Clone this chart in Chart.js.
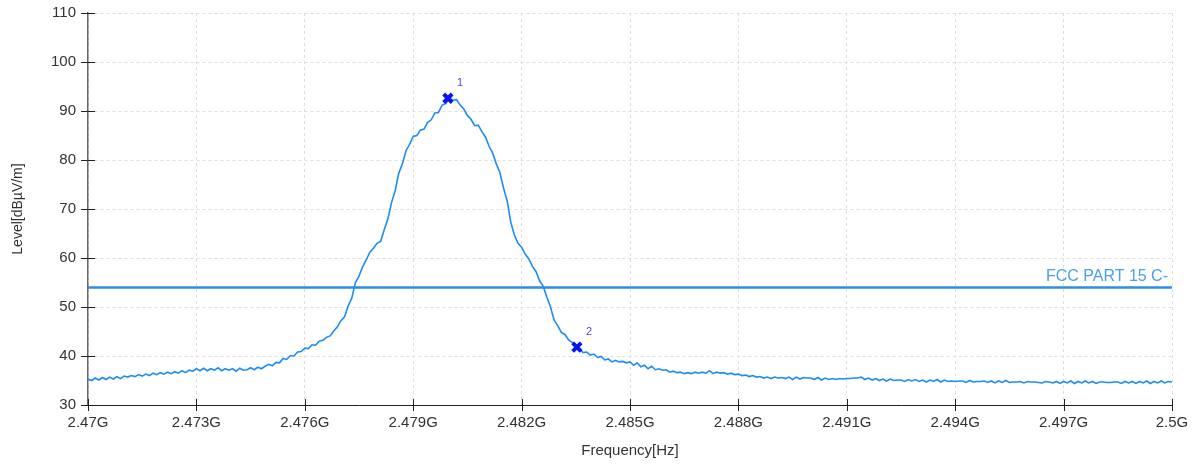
<!DOCTYPE html>
<html>
<head>
<meta charset="utf-8">
<script src="https://cdn.jsdelivr.net/npm/chart.js@4.4.1/dist/chart.umd.min.js"></script>
<style>
  html, body { margin: 0; padding: 0; background: #fff; }
  #wrap { width: 1200px; height: 464px; }
</style>
</head>
<body>
<div id="wrap"><canvas id="specChart"></canvas></div>
<script>
// sweep settings (MHz)
const sweepStart = 2470;
const sweepStep = 0.1;

// trace, one value per 0.1 MHz, 2470 .. 2500 MHz
const levels = [
  35.3, 35.0, 35.5, 35.1, 35.6, 35.2, 35.7, 35.3, 35.8, 35.4,
  35.9, 35.7, 36.0, 35.8, 36.2, 35.9, 36.3, 36.0, 36.5, 36.2,
  36.6, 36.3, 36.7, 36.4, 36.8, 36.5, 37.0, 36.6, 37.1, 36.9,
  37.4, 37.0, 37.5, 37.0, 37.4, 37.1, 37.6, 37.0, 37.4, 37.1,
  37.4, 36.9, 37.5, 37.1, 37.2, 37.6, 37.2, 37.7, 37.4, 37.9,
  38.3, 38.0, 38.7, 38.6, 39.5, 39.3, 40.1, 40.0, 40.8, 40.9,
  41.6, 41.5, 42.3, 42.2, 43.0, 43.2, 43.8, 44.1, 45.1, 45.9,
  47.2, 48.0, 50.2, 51.8, 55.0, 56.3, 58.2, 59.6, 61.2, 62.0,
  63.0, 63.4, 65.8, 68.0, 71.3, 73.7, 77.3, 79.2, 81.9, 83.2,
  84.8, 85.0, 86.1, 86.3, 87.7, 88.2, 89.6, 89.7, 91.2, 91.5,
  92.6, 92.2, 92.3, 91.2, 90.4, 89.1, 88.3, 87.0, 87.1, 85.8,
  84.7, 82.8, 81.4, 79.2, 77.4, 74.3, 71.7, 67.3, 64.7, 63.0,
  62.2, 60.8, 59.8, 58.3, 57.2, 55.3, 54.2, 52.0, 50.0, 47.3,
  46.2, 44.8, 44.4, 43.3, 42.8, 41.8, 41.5, 40.7, 40.8, 40.2,
  40.4, 39.7, 39.9, 39.2, 39.4, 38.8, 39.1, 38.8, 38.9, 38.6,
  38.8, 38.1, 38.6, 37.8, 38.1, 37.4, 37.9, 37.2, 37.4, 37.1,
  37.2, 36.7, 36.9, 36.6, 36.7, 36.4, 36.6, 36.4, 36.7, 36.5,
  36.7, 36.5, 37.0, 36.4, 36.7, 36.5, 36.6, 36.3, 36.5, 36.2,
  36.3, 36.0, 36.1, 35.8, 36.0, 35.7, 35.8, 35.5, 35.7, 35.4,
  35.7, 35.5, 35.6, 35.4, 35.7, 35.2, 35.7, 35.3, 35.6, 35.5,
  35.5, 35.2, 35.6, 35.1, 35.5, 35.2, 35.4, 35.2, 35.4, 35.3,
  35.4, 35.4, 35.5, 35.5, 35.7, 35.2, 35.5, 35.1, 35.4, 35.0,
  35.3, 34.9, 35.3, 35.0, 35.1, 35.1, 34.8, 35.2, 34.9, 35.2,
  34.8, 35.1, 34.7, 35.1, 34.8, 35.2, 34.7, 35.1, 34.8, 34.9,
  34.8, 34.9, 34.9, 34.6, 35.0, 34.7, 34.8, 34.8, 34.9, 34.6,
  34.9, 34.5, 34.9, 34.6, 35.0, 34.6, 34.7, 34.7, 34.8, 34.5,
  34.8, 34.7, 34.7, 34.6, 34.5, 34.8, 34.7, 34.5, 34.8, 34.4,
  34.8, 34.5, 34.9, 34.4, 34.8, 34.5, 34.9, 34.5, 34.8, 34.4,
  34.7, 34.7, 34.6, 34.6, 34.7, 34.7, 34.4, 34.8, 34.5, 34.8,
  34.4, 34.8, 34.5, 34.9, 34.4, 34.8, 34.5, 34.9, 34.5, 34.8,
  34.7
];

// markers
const markerFreqs = [2479.96, 2483.53];
const markerLevels = [92.6, 41.8];
const markerNames = ['1', '2'];

// limit line
const limitName = 'FCC PART 15 C-';
const limitFreqs = [2470, 2500];
const limitLevels = [54, 54];

const xTickLabels = ['2.47G', '2.473G', '2.476G', '2.479G', '2.482G', '2.485G',
                     '2.488G', '2.491G', '2.494G', '2.497G', '2.5G'];
const yTicks = [30, 40, 50, 60, 70, 80, 90, 100, 110];

const traceColor = '#1e8cf5';
const limitColor = '#2b8de8';
const FONT = '"Liberation Sans", Arial, sans-serif';

const freqs = levels.map((_, i) => sweepStart + i * sweepStep);

// tick marks crossing the axes + marker numbers + limit label
const extras = {
  id: 'extras',
  afterDatasetsDraw(chart) {
    const ctx = chart.ctx;
    const xs = chart.scales.x, ys = chart.scales.y;
    const area = chart.chartArea;
    ctx.save();
    ctx.lineWidth = 1;
    ctx.strokeStyle = '#222';
    ys.ticks.forEach(t => {
      const py = Math.round(ys.getPixelForValue(t.value)) + 0.5;
      ctx.beginPath();
      ctx.moveTo(area.left - 7, py);
      ctx.lineTo(area.left + 7, py);
      ctx.stroke();
    });
    xs.ticks.forEach(t => {
      const px = Math.round(xs.getPixelForValue(t.value)) + 0.5;
      ctx.beginPath();
      ctx.moveTo(px, area.bottom - 6);
      ctx.lineTo(px, area.bottom + 6);
      ctx.stroke();
    });

    ctx.font = '11px ' + FONT;
    ctx.fillStyle = '#5a3fe0';
    ctx.textAlign = 'left';
    ctx.textBaseline = 'alphabetic';
    markerFreqs.forEach((f, i) => {
      const px = xs.getPixelForValue(f);
      const py = ys.getPixelForValue(markerLevels[i]);
      ctx.fillText(markerNames[i], px + 9, py - 12);
    });

    ctx.font = '16px ' + FONT;
    ctx.fillStyle = '#4a9ff0';
    ctx.textAlign = 'right';
    const ly = ys.getPixelForValue(limitLevels[1]);
    ctx.fillText(limitName, xs.getPixelForValue(limitFreqs[1]) - 4, ly - 6);
    ctx.restore();
  }
};

new Chart(document.getElementById('specChart'), {
  type: 'line',
  data: {
    datasets: [
      {
        label: 'markers',
        data: markerFreqs.map((f, i) => ({ x: f, y: markerLevels[i] })),
        showLine: false,
        pointStyle: 'crossRot',
        pointRadius: 6,
        pointBorderWidth: 4,
        pointBorderColor: '#0a14f0',
        pointBackgroundColor: '#0a14f0'
      },
      {
        label: 'trace',
        data: freqs.map((f, i) => ({ x: f, y: levels[i] })),
        borderColor: traceColor,
        borderWidth: 1.6,
        pointRadius: 0,
        tension: 0
      },
      {
        label: limitName,
        data: limitFreqs.map((f, i) => ({ x: f, y: limitLevels[i] })),
        borderColor: limitColor,
        borderWidth: 2.5,
        pointRadius: 0
      }
    ]
  },
  options: {
    responsive: true,
    maintainAspectRatio: false,
    animation: false,
    layout: { padding: { left: 6, right: 28, top: 13, bottom: 0 } },
    plugins: {
      legend: { display: false },
      tooltip: { enabled: false }
    },
    scales: {
      x: {
        type: 'linear',
        min: 2470,
        max: 2500,
        afterFit(scale) {
          scale.height = 59;
          scale.paddingLeft = 0;
          scale.paddingRight = 0;
        },
        afterBuildTicks(scale) {
          scale.ticks = xTickLabels.map((_, i) => ({ value: 2470 + i * 3 }));
        },
        ticks: {
          callback: (v, i) => xTickLabels[i],
          font: { family: FONT, size: 15 },
          color: '#333',
          padding: 9,
          maxRotation: 0,
          autoSkip: false
        },
        grid: { color: '#dedede', drawTicks: false },
        border: { color: '#222', width: 1, dash: [3, 3] },
        title: {
          display: true,
          text: 'Frequency[Hz]',
          font: { family: FONT, size: 15 },
          color: '#333',
          padding: { top: 6 }
        }
      },
      y: {
        min: 30,
        max: 110,
        afterFit(scale) {
          scale.width = 82;
          scale.paddingTop = 0;
          scale.paddingBottom = 0;
        },
        afterBuildTicks(scale) {
          scale.ticks = yTicks.map(v => ({ value: v }));
        },
        ticks: {
          font: { family: FONT, size: 15 },
          color: '#333',
          padding: 12
        },
        grid: { color: '#dedede', drawTicks: false },
        border: { color: '#666', width: 1.5, dash: [3, 3] },
        title: {
          display: true,
          text: 'Level[dBµV/m]',
          font: { family: FONT, size: 14 },
          color: '#333',
          padding: { bottom: 4 }
        }
      }
    }
  },
  plugins: [extras]
});
</script>
</body>
</html>
